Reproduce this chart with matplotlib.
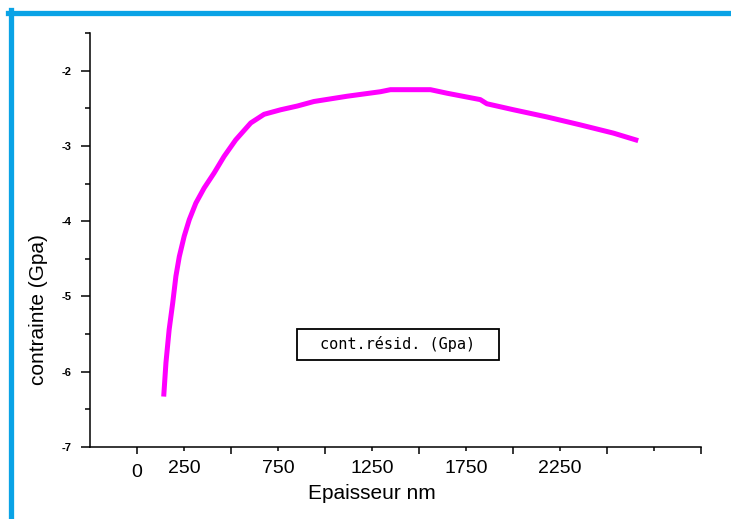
import matplotlib.pyplot as plt
from matplotlib.lines import Line2D
from matplotlib.patches import Rectangle
from matplotlib.ticker import MultipleLocator, FixedLocator, FixedFormatter

# data
epaisseur = [142, 154, 171, 190, 207, 225, 251, 278, 313, 357, 410, 463,
             525, 605, 676, 764, 853, 941, 1118, 1295, 1348, 1561, 1649,
             1826, 1861, 2003, 2180, 2357, 2534, 2666]
contrainte = [-6.33, -5.88, -5.44, -5.085, -4.73, -4.47, -4.20, -3.98, -3.76,
              -3.56, -3.36, -3.14, -2.92, -2.695, -2.58, -2.52, -2.47, -2.41,
              -2.34, -2.28, -2.253, -2.253, -2.30, -2.385, -2.44, -2.52,
              -2.615, -2.72, -2.83, -2.93]
major_x = [0, 500, 1000, 1500, 2000, 2500, 3000]
major_x_labels = ['0', '', '', '', '', '', '']
minor_x = [250, 750, 1250, 1750, 2250, 2750]
minor_x_labels = ['250', '750', '1250', '1750', '2250', '']
legend_label = 'cont.résid. (Gpa)'

plt.rcParams['font.family'] = ['Liberation Sans', 'DejaVu Sans']

fig = plt.figure(figsize=(7.31, 5.19), dpi=100)
ax = fig.add_axes([90 / 731, 1 - 447 / 519, 611 / 731, 414 / 519])

ax.plot(epaisseur, contrainte, color='#ff00ff', lw=3.6, solid_capstyle='butt')

ax.set_xlim(-250, 3000)
ax.set_ylim(-7, -1.5)

for s in ['top', 'right']:
    ax.spines[s].set_visible(False)
for s in ['left', 'bottom']:
    ax.spines[s].set_linewidth(1.1)

ax.xaxis.set_major_locator(FixedLocator(major_x))
ax.xaxis.set_major_formatter(FixedFormatter(major_x_labels))
ax.xaxis.set_minor_locator(FixedLocator(minor_x))
ax.xaxis.set_minor_formatter(FixedFormatter(minor_x_labels))
ax.tick_params(axis='x', which='major', direction='out', length=5, width=1.1,
               pad=7.5, labelsize=14)
ax.tick_params(axis='x', which='minor', direction='out', length=3, width=1.1,
               pad=6.5, labelsize=14)

ax.yaxis.set_major_locator(MultipleLocator(1))
ax.yaxis.set_minor_locator(MultipleLocator(0.5))
ax.yaxis.set_major_formatter(lambda v, p: '%d' % v)
ax.tick_params(axis='y', which='major', direction='out', length=6.5, width=1.1,
               pad=7, labelsize=8)
ax.tick_params(axis='y', which='minor', direction='out', length=3.5, width=1.1)
for t in ax.get_yticklabels():
    t.set_fontweight('bold')

ax.set_xlabel('Epaisseur nm', fontsize=15)
ax.xaxis.set_label_coords((372 - 90) / 611, (447 - 484) / 414)
ax.text(-0.085, 0.333, 'contrainte (Gpa)', transform=ax.transAxes,
        rotation=90, ha='center', va='center', fontsize=15)

# legend box
ax.add_patch(Rectangle((0.504 - 0.1653, 0.2476 - 0.0375), 0.3306, 0.075,
                       transform=ax.transAxes, fill=False, ec='black', lw=1.3))
ax.text(0.504, 0.2476, legend_label, transform=ax.transAxes, ha='center',
        va='center', fontsize=11, family='DejaVu Sans Mono')

# blue frame of the original image
blue = '#0aa3e6'
fig.add_artist(Line2D([8 / 731, 1], [1 - 12.5 / 519] * 2, color=blue, lw=3.8,
                      transform=fig.transFigure))
fig.add_artist(Line2D([10.5 / 731] * 2, [0, 1 - 10 / 519], color=blue, lw=3.8,
                      transform=fig.transFigure))

fig.savefig('out.png', dpi=100)
